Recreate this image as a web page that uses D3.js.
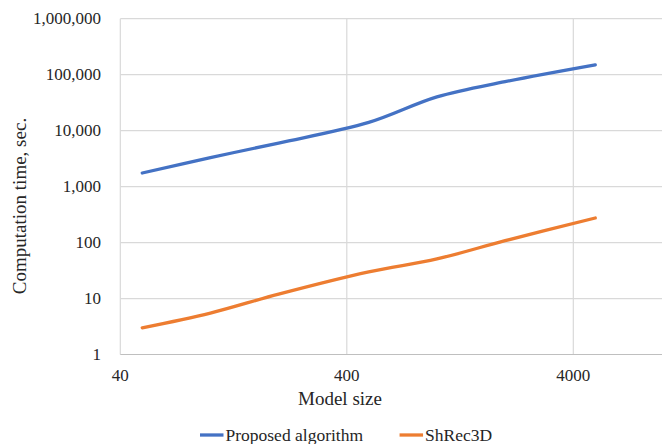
<!DOCTYPE html>
<html>
<head>
<meta charset="utf-8">
<script src="https://cdn.jsdelivr.net/npm/d3@7"></script>
<style>
  html, body { margin: 0; padding: 0; background: #fff; }
  svg { display: block; }
</style>
</head>
<body>
<div id="chart"></div>
<script>
// --- data ---
const modelSizes = [50, 100, 200, 500, 1000, 2000, 5000];
const proposedTimes = [1750, 3300, 6000, 14000, 40000, 75000, 150000];
const shrecTimes = [3, 5.5, 12, 30, 51, 108, 275];
const seriesNames = ["Proposed algorithm", "ShRec3D"];
const xTicks = [40, 400, 4000, 40000];
const yTicks = [1, 10, 100, 1000, 10000, 100000, 1000000];

// --- layout ---
const WIDTH = 662, HEIGHT = 444;
const PLOT = { left: 120.3, top: 18.7, bottom: 354.5 };
const DECADE = 226.5; // px per decade on the x axis
const COLORS = ["#4472C4", "#ED7D31"];
const FONT = "'Liberation Serif', 'Times New Roman', serif";
const TEXT = "#262626";

const svg = d3.select("#chart").append("svg")
  .attr("width", WIDTH).attr("height", HEIGHT)
  .style("font-family", FONT);

// the plot area runs past the right edge of the picture
const x = d3.scaleLog().domain([40, 40000])
  .range([PLOT.left, PLOT.left + 3 * DECADE]);
const y = d3.scaleLog().domain([1, 1000000])
  .range([PLOT.bottom, PLOT.top]);

// gridlines
svg.append("g").selectAll("line.h")
  .data(yTicks.slice(1))
  .join("line")
  .attr("x1", PLOT.left).attr("x2", WIDTH)
  .attr("y1", d => y(d)).attr("y2", d => y(d))
  .attr("stroke", "#d9d9d9").attr("stroke-width", 1.2);

svg.append("g").selectAll("line.v")
  .data(xTicks)
  .join("line")
  .attr("x1", d => x(d)).attr("x2", d => x(d))
  .attr("y1", PLOT.top).attr("y2", PLOT.bottom)
  .attr("stroke", "#d9d9d9").attr("stroke-width", 1.2);

// x axis line
svg.append("line")
  .attr("x1", PLOT.left).attr("x2", WIDTH)
  .attr("y1", PLOT.bottom).attr("y2", PLOT.bottom)
  .attr("stroke", "#bfbfbf").attr("stroke-width", 1.2);

// y tick labels
svg.append("g").selectAll("text")
  .data(yTicks)
  .join("text")
  .attr("x", 101)
  .attr("y", d => y(d))
  .attr("dy", "0.33em")
  .attr("text-anchor", "end")
  .attr("font-size", 17)
  .attr("fill", TEXT)
  .text(d => d3.format(",")(d));

// x tick labels
svg.append("g").selectAll("text")
  .data(xTicks.filter(d => x(d) < WIDTH))
  .join("text")
  .attr("x", d => x(d))
  .attr("y", 381)
  .attr("text-anchor", "middle")
  .attr("font-size", 17)
  .attr("fill", TEXT)
  .text(d => d);

// axis titles
svg.append("text")
  .attr("x", 340).attr("y", 405)
  .attr("text-anchor", "middle")
  .attr("font-size", 19)
  .attr("fill", TEXT)
  .text("Model size");

svg.append("text")
  .attr("transform", "translate(25.5, 206) rotate(-90)")
  .attr("text-anchor", "middle")
  .attr("font-size", 19)
  .attr("fill", TEXT)
  .text("Computation time, sec.");

// series
const series = [proposedTimes, shrecTimes].map((vals, i) => ({
  name: seriesNames[i],
  color: COLORS[i],
  values: modelSizes.map((m, j) => ({ x: m, y: vals[j] }))
}));

const line = d3.line()
  .x(d => x(d.x))
  .y(d => y(d.y))
  .curve(d3.curveCatmullRom.alpha(0.5));

svg.append("g").selectAll("path")
  .data(series)
  .join("path")
  .attr("d", d => line(d.values))
  .attr("fill", "none")
  .attr("stroke", d => d.color)
  .attr("stroke-width", 3.3)
  .attr("stroke-linecap", "round")
  .attr("stroke-linejoin", "round");

// legend
const legend = svg.append("g").attr("transform", "translate(200, 435)");
let lx = 0;
series.forEach(s => {
  const g = legend.append("g").attr("transform", `translate(${lx}, 0)`);
  g.append("line")
    .attr("x1", 0).attr("x2", 23.5)
    .attr("y1", 0).attr("y2", 0)
    .attr("stroke", s.color).attr("stroke-width", 3.3);
  const t = g.append("text")
    .attr("x", 25.5).attr("y", 0)
    .attr("dy", "0.33em")
    .attr("font-size", 17.5)
    .attr("fill", TEXT)
    .text(s.name);
  lx += 25.5 + t.node().getComputedTextLength() + 36.5;
});
</script>
</body>
</html>
